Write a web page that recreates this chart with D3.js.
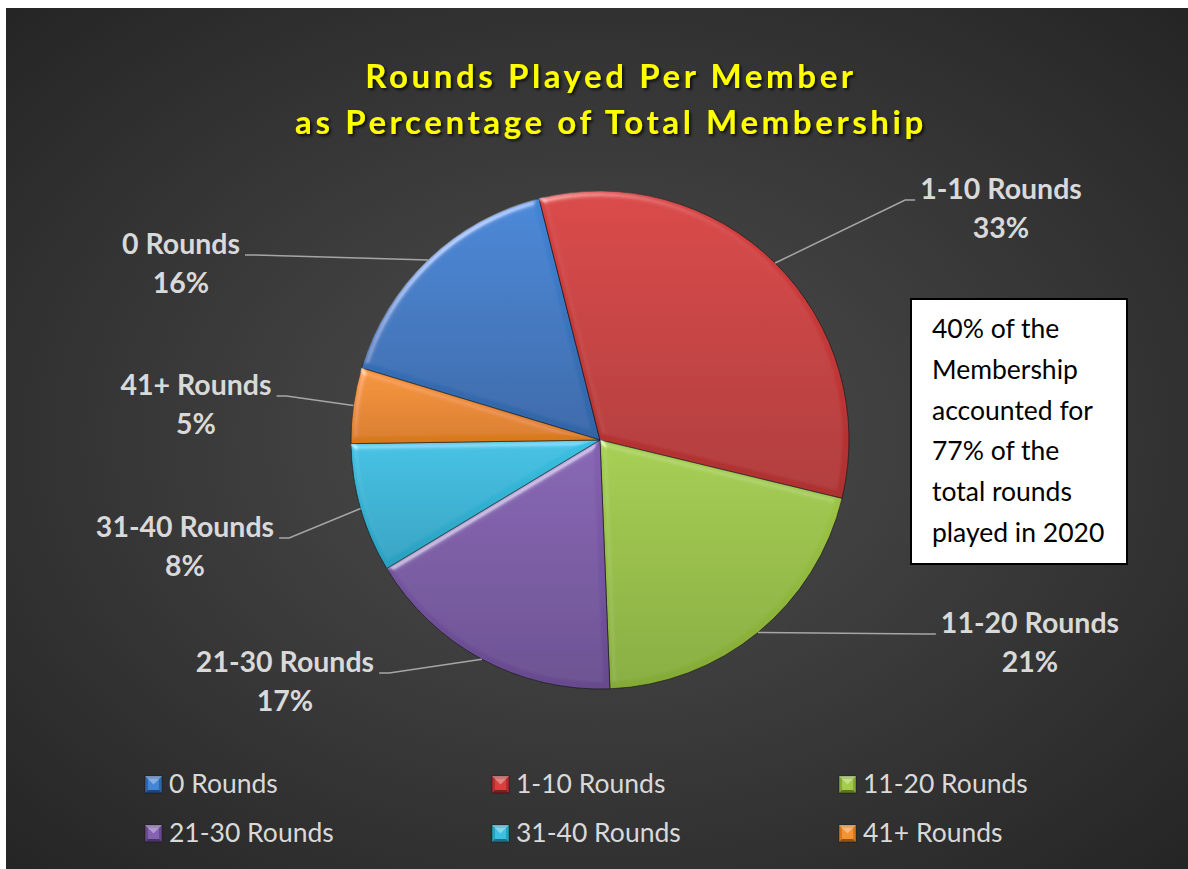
<!DOCTYPE html>
<html>
<head>
<meta charset="utf-8">
<script src="https://cdn.jsdelivr.net/npm/d3@7"></script>
<style>
  html, body { margin: 0; padding: 0; background: #fff; }
  svg { display: block; font-family: Lato, "Open Sans", sans-serif; }
</style>
</head>
<body>
<div id="chart"></div>
<script>
// Rounds played per member, share of total membership (%)
const categories = ['0 Rounds', '1-10 Rounds', '11-20 Rounds', '21-30 Rounds', '31-40 Rounds', '41+ Rounds'];
const shares     = [16.4, 32.7, 20.6, 17.0, 8.4, 4.9];
const titleLines = ['Rounds Played Per Member', 'as Percentage of Total Membership'];
const noteLines  = ['40% of the', 'Membership', 'accounted for', '77% of the', 'total rounds', 'played in 2020'];

// styling / layout (not data)
const sliceColors = [
  ['#4285d6', '#3164a6'],
  ['#d84040', '#ad3030'],
  ['#a4cc4c', '#84aa36'],
  ['#8461b2', '#674a8e'],
  ['#3cc0e2', '#2a9fbf'],
  ['#f59333', '#d6781c']
];
// label anchor: centre x, first baseline y, which side the leader leaves from
const labelPos = [
  { x: 181, y: 254, side: 'right' },
  { x: 1001, y: 199, side: 'left' },
  { x: 1030, y: 633, side: 'left' },
  { x: 285, y: 672, side: 'right' },
  { x: 185, y: 537, side: 'right' },
  { x: 196, y: 395, side: 'right' }
];

const W = 1188, H = 869;
const cx = 600, cy = 440, R = 249;
const startDeg = -73.2;

const svg = d3.select('#chart').append('svg').attr('width', W).attr('height', H);
const defs = svg.append('defs');

// background gradient
const bg = defs.append('radialGradient').attr('id', 'bg')
  .attr('cx', '50%').attr('cy', '50%').attr('r', '72%');
bg.append('stop').attr('offset', '0%').attr('stop-color', '#4e4e4e');
bg.append('stop').attr('offset', '100%').attr('stop-color', '#242424');

svg.append('rect').attr('x', 6).attr('y', 8).attr('width', W - 6).attr('height', H - 8)
  .attr('fill', 'url(#bg)');

// bevel filter for slices
const bevel = defs.append('filter').attr('id', 'bevel')
  .attr('x', '-5%').attr('y', '-5%').attr('width', '110%').attr('height', '110%');
bevel.append('feGaussianBlur').attr('in', 'SourceAlpha').attr('stdDeviation', 3).attr('result', 'blur');
bevel.append('feSpecularLighting').attr('in', 'blur').attr('surfaceScale', 3)
  .attr('specularConstant', 0.4).attr('specularExponent', 30).attr('lighting-color', '#ffffff')
  .attr('result', 'spec')
  .append('feDistantLight').attr('azimuth', 235).attr('elevation', 40);
bevel.append('feComposite').attr('in', 'spec').attr('in2', 'SourceAlpha').attr('operator', 'in').attr('result', 'specIn');
bevel.append('feComposite').attr('in', 'SourceGraphic').attr('in2', 'specIn')
  .attr('operator', 'arithmetic').attr('k1', 0).attr('k2', 1).attr('k3', 1).attr('k4', 0);

// title shadow
const tsh = defs.append('filter').attr('id', 'tshadow').attr('x', '-5%').attr('y', '-20%').attr('width', '110%').attr('height', '140%');
tsh.append('feDropShadow').attr('dx', 2).attr('dy', 2).attr('stdDeviation', 1.5)
  .attr('flood-color', '#000').attr('flood-opacity', 0.75);

sliceColors.forEach((c, i) => {
  const g = defs.append('linearGradient').attr('id', 'sg' + i)
    .attr('x1', 0).attr('y1', 0).attr('x2', 0).attr('y2', 1);
  g.append('stop').attr('offset', '0%').attr('stop-color', c[0]);
  g.append('stop').attr('offset', '100%').attr('stop-color', c[1]);
});

// title
svg.append('g').attr('filter', 'url(#tshadow)')
  .selectAll('text').data(titleLines).join('text')
  .attr('x', 611).attr('y', (d, i) => 88 + i * 46)
  .attr('text-anchor', 'middle')
  .attr('font-size', 33).attr('font-weight', 700)
  .attr('letter-spacing', 3.6)
  .attr('fill', '#ffff00')
  .text(d => d);

// pie
const pie = d3.pie().sort(null)
  .startAngle(startDeg * Math.PI / 180)
  .endAngle(startDeg * Math.PI / 180 + 2 * Math.PI);
const arcs = pie(shares);
const arc = d3.arc().innerRadius(0).outerRadius(R);

const pieG = svg.append('g').attr('transform', `translate(${cx},${cy})`);
pieG.selectAll('path').data(arcs).join('path')
  .attr('d', arc)
  .attr('fill', (d, i) => `url(#sg${i})`)
  .attr('filter', 'url(#bevel)')
  .attr('stroke', 'rgba(20,20,20,0.6)')
  .attr('stroke-width', 1);

// data labels + leader lines
const fmt = v => Math.round(v) + '%';
const labG = svg.append('g');
arcs.forEach((a, i) => {
  const p = labelPos[i];
  const t = labG.append('text')
    .attr('x', p.x).attr('y', p.y)
    .attr('text-anchor', 'middle')
    .attr('font-size', 28.5).attr('font-weight', 700)
    .attr('fill', '#d9d9d9');
  t.append('tspan').attr('x', p.x).attr('y', p.y).text(categories[i]);
  t.append('tspan').attr('x', p.x).attr('y', p.y + 39).text(fmt(shares[i]));
  const w = t.select('tspan').node().getComputedTextLength();
  const mid = (a.startAngle + a.endAngle) / 2;
  const rim = [cx + R * Math.sin(mid), cy - R * Math.cos(mid)];
  const ex = p.side === 'right' ? p.x + w / 2 + 5 : p.x - w / 2 - 5;
  const kx = p.side === 'right' ? ex + 10 : ex - 10;
  const ly = p.y + 1;
  labG.append('path')
    .attr('d', d3.line()([[ex, ly], [kx, ly], rim]))
    .attr('fill', 'none').attr('stroke', '#a6a6a6').attr('stroke-width', 1.5);
});

// note box
const note = svg.append('g');
note.append('rect').attr('x', 911).attr('y', 299).attr('width', 216).attr('height', 265)
  .attr('fill', '#ffffff').attr('stroke', '#000').attr('stroke-width', 2);
note.selectAll('text').data(noteLines).join('text')
  .attr('x', 932).attr('y', (d, i) => 338 + i * 40.8)
  .attr('font-size', 26.5).attr('fill', '#000')
  .text(d => d);

// legend
const legX = [145, 492, 839];
const legY = [793, 842];
const legG = svg.append('g');
categories.forEach((c, i) => {
  const x = legX[i % 3], y = legY[Math.floor(i / 3)];
  const s = 17, top = y - s;
  const g = legG.append('g');
  g.append('rect').attr('x', x).attr('y', top).attr('width', s).attr('height', s)
    .attr('fill', sliceColors[i][1]).attr('stroke', 'rgba(0,0,0,0.4)').attr('stroke-width', 0.8);
  g.append('rect').attr('x', x + 3).attr('y', top + 3).attr('width', s - 6).attr('height', s - 6)
    .attr('fill', sliceColors[i][0]);
  g.append('path')
    .attr('d', `M${x},${top}L${x + s},${top}L${x + s / 2},${top + s / 2}Z`)
    .attr('fill', 'rgba(255,255,255,0.35)');
  g.append('path')
    .attr('d', `M${x},${top + s}L${x + s},${top + s}L${x + s - 3},${top + s - 3}L${x + 3},${top + s - 3}Z`)
    .attr('fill', 'rgba(0,0,0,0.3)');
  g.append('text').attr('x', x + 24).attr('y', y)
    .attr('font-size', 26.5).attr('fill', '#d9d9d9')
    .text(c);
});
</script>
</body>
</html>
